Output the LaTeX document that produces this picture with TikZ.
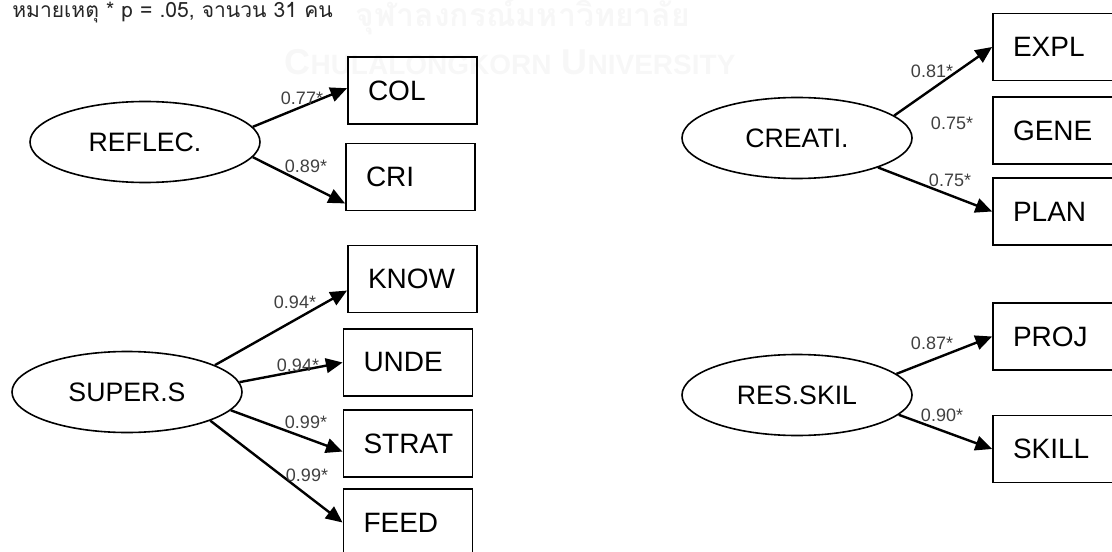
\documentclass[tikz,border=0pt]{standalone}
\usepackage{fontspec}
\setmainfont{Liberation Sans}
\newfontfamily\thaifont[Script=Thai]{Loma}
\usetikzlibrary{arrows.meta,shapes.geometric}

\tikzset{
  latent/.style={ellipse, draw, line width=1.2pt, minimum width=172.5pt,
    minimum height=60.75pt, inner sep=0pt, font=\fontsize{20}{24}\selectfont},
  indicator/.style={rectangle, draw, line width=1.4pt, minimum width=96.75pt,
    minimum height=50.25pt, inner xsep=15pt, text width=66.75pt, align=left,
    font=\fontsize{21}{25}\selectfont},
  loading/.style={font=\fontsize{13.5}{16}\selectfont, text=black!75, inner sep=0pt},
  path/.style={line width=1.8pt, -{Triangle[length=12.5pt,width=11pt]}},
  mark1/.style={text=black!3, font=\thaifont\bfseries\fontsize{24}{28}\selectfont, inner sep=0pt},
  mark2/.style={text=black!3, font=\bfseries\fontsize{27}{30}\selectfont, inner sep=0pt}
}

\begin{document}
\begin{tikzpicture}[x=0.75pt, y=-0.75pt]
\useasboundingbox (0,0) rectangle (1112,552);

% faint university watermark behind the diagram
\node[mark1] (wmth) at (523,17) {จุฬาลงกรณ์มหาวิทยาลัย};
\node[mark2] (wmen) at (510,62) {C{\fontsize{21}{24}\selectfont HULALONGKORN} U{\fontsize{21}{24}\selectfont NIVERSITY}};

% note
\node[anchor=west, inner sep=0pt, text=black!85, font=\thaifont\fontsize{15.8}{19}\selectfont] (note) at (12,13) {หมายเหตุ * p = .05, จานวน 31 คน};

% latent variables
\node[latent] (refl) at (145,142) {REFLEC.};
\node[latent] (super) at (127,392) {SUPER.S};
\node[latent] (creat) at (797,138) {CREATI.};
\node[latent] (res) at (797,395) {RES.SKIL};

% observed indicators
\node[indicator] (col) at (412.5,90.5) {COL};
\node[indicator] (cri) at (410.5,177) {CRI};
\node[indicator] (know) at (412.5,279) {KNOW};
\node[indicator] (unde) at (408,362.5) {UNDE};
\node[indicator] (strat) at (408,443.5) {STRAT};
\node[indicator] (feed) at (408,522.5) {FEED};
\node[indicator] (expl) at (1057.5,47) {EXPL};
\node[indicator] (gene) at (1057.5,130.5) {GENE};
\node[indicator] (plan) at (1057.5,211.5) {PLAN};
\node[indicator] (proj) at (1057.5,336.5) {PROJ};
\node[indicator] (skill) at (1057.5,449) {SKILL};

% factor loadings
\draw[path] (refl.8) -- (col.178);
\draw[path] (refl.352) -- (cri.202);
\draw[path] (super.17) -- (know.190);
\draw[path] (super.5) -- (unde.west);
\draw[path] (super.350) -- (strat.187);
\draw[path] (super.341) -- (feed.west);
\draw[path] (creat.13) -- (expl.west);
\draw[path] (creat.340) -- (plan.west);
\draw[path] (res.12) -- (proj.west);
\draw[path] (res.349) -- (skill.west);

% loading values
\node[loading] (l1) at (302,98) {0.77*};
\node[loading] (l2) at (306,166) {0.89*};
\node[loading] (l3) at (295,302) {0.94*};
\node[loading] (l4) at (298,365) {0.94*};
\node[loading] (l5) at (306,422) {0.99*};
\node[loading] (l6) at (307,475) {0.99*};
\node[loading] (l7) at (932,71) {0.81*};
\node[loading] (l8) at (952,123) {0.75*};
\node[loading] (l9) at (950,180) {0.75*};
\node[loading] (l10) at (932,343) {0.87*};
\node[loading] (l11) at (942,415) {0.90*};
\end{tikzpicture}
\end{document}
